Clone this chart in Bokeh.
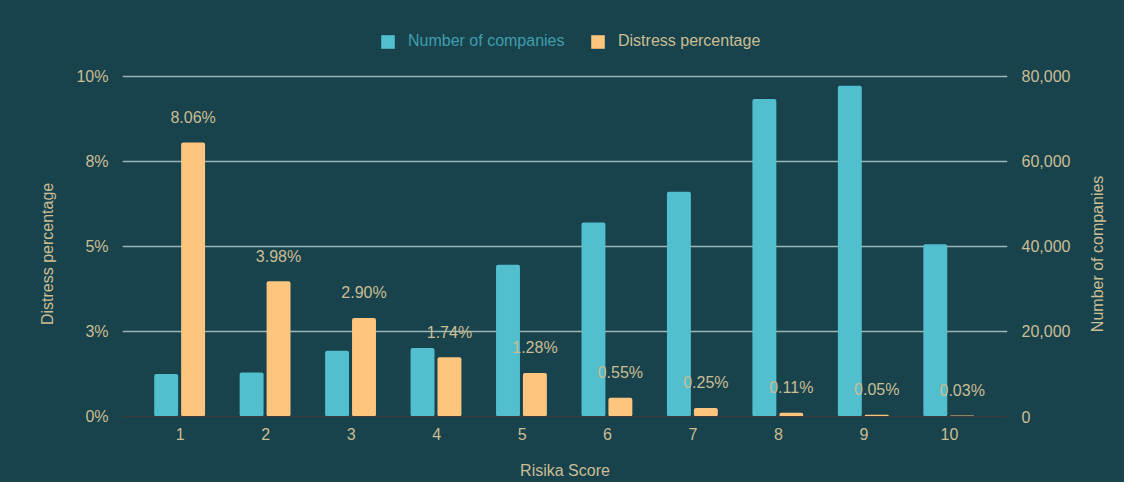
import math
from bokeh.plotting import figure
from bokeh.layouts import row
from bokeh.models import (Range1d, LinearAxis, FixedTicker, Legend, LegendItem,
                          ColumnDataSource)
from bokeh.core.properties import value
from bokeh.embed import file_html
from bokeh.resources import INLINE

# ---- data ----
scores = [1, 2, 3, 4, 5, 6, 7, 8, 9, 10]
score_labels = ["1", "2", "3", "4", "5", "6", "7", "8", "9", "10"]
companies = [10000, 10350, 15450, 16100, 35700, 45650, 52900, 74700, 77800, 40500]
distress_pct = [8.06, 3.98, 2.90, 1.74, 1.28, 0.55, 0.25, 0.11, 0.05, 0.03]
distress_labels = ["8.06%", "3.98%", "2.90%", "1.74%", "1.28%", "0.55%", "0.25%", "0.11%", "0.05%", "0.03%"]
pct_ticks = [0, 2.5, 5, 7.5, 10]
pct_tick_labels = ["0%", "3%", "5%", "8%", "10%"]
comp_ticks = [0, 20000, 40000, 60000, 80000]
comp_tick_labels = ["0", "20,000", "40,000", "60,000", "80,000"]
x_title = "Risika Score"
left_title = "Distress percentage"
right_title = "Number of companies"

FONT = "Liberation Sans"
BG = "#18434c"
TXT = "#cbbd94"
CYAN = "#52bfce"
ORANGE = "#fdc57e"
H = 482

PCT_TOP = 11.88
ratio = comp_ticks[-1] / pct_ticks[-1]

p = figure(width=1004, height=H, output_backend="svg", toolbar_location=None,
           x_range=Range1d(0.324, 10.68), y_range=Range1d(0, PCT_TOP),
           min_border_left=52, min_border_right=67, min_border_top=12,
           min_border_bottom=66)
p.background_fill_color = BG
p.border_fill_color = BG
p.outline_line_color = None
p.styles = {"background-color": BG}
p.extra_y_ranges = {"comp": Range1d(0, PCT_TOP * ratio)}

src = ColumnDataSource(dict(x=scores, comp=companies, pct=distress_pct, lab=distress_labels))
src.data["xc"] = [s - 0.165 for s in scores]
src.data["xd"] = [s + 0.15 for s in scores]

r_comp = p.vbar(x="xc", top="comp", width=0.28, source=src, y_range_name="comp",
                fill_color=CYAN, line_color=None, border_radius=2)
r_pct = p.vbar(x="xd", top="pct", width=0.28, source=src,
               fill_color=ORANGE, line_color=None, border_radius=2)
p.text(x="xd", y="pct", text="lab", source=src, y_offset=-25,
       text_align="center", text_baseline="middle", text_color=TXT,
       text_font=value(FONT), text_font_size="16px")

# grid
p.xgrid.visible = False
p.ygrid.ticker = FixedTicker(ticks=pct_ticks[1:])
p.ygrid.grid_line_color = "#9db5b8"
p.ygrid.grid_line_width = 1.5

# axes
def style(ax):
    ax.major_tick_line_color = None
    ax.minor_tick_line_color = None
    ax.major_label_text_color = TXT
    ax.major_label_text_font = FONT
    ax.major_label_text_font_size = "16px"
    ax.major_label_standoff = 8
    ax.axis_label_text_color = TXT
    ax.axis_label_text_font = FONT
    ax.axis_label_text_font_size = "16px"
    ax.axis_label_text_font_style = "normal"

xa = p.xaxis[0]
style(xa)
xa.ticker = FixedTicker(ticks=scores)
xa.major_label_overrides = dict(zip(scores, score_labels))
xa.axis_line_color = "#3e3b36"
xa.major_label_standoff = 5
xa.axis_label = x_title
xa.axis_label_standoff = 19

ya = p.yaxis[0]
style(ya)
ya.ticker = FixedTicker(ticks=pct_ticks)
ya.major_label_overrides = dict(zip(pct_ticks, pct_tick_labels))
ya.axis_line_color = None

ra = LinearAxis(y_range_name="comp")
style(ra)
ra.ticker = FixedTicker(ticks=comp_ticks)
ra.major_label_overrides = dict(zip(comp_ticks, comp_tick_labels))
ra.axis_line_color = None
p.add_layout(ra, "right")

# legends (two, for different text colours)
def make_legend(label, rend, color, x):
    lg = Legend(items=[LegendItem(label=label, renderers=[rend])],
                location=(x, 366), orientation="horizontal",
                padding=0, margin=0, spacing=0,
                glyph_width=17, glyph_height=17, label_height=17,
                label_standoff=12, border_line_color=None,
                background_fill_alpha=0, label_text_color=color,
                label_text_font=FONT, label_text_font_size="16px")
    p.add_layout(lg, "center")

make_legend("Number of companies", r_comp, "#3f9eac", 257)
make_legend("Distress percentage", r_pct, TXT, 467)

# side strips holding the vertical axis titles (read bottom-to-top)
def side_strip(w, text, cx, cy):
    s = figure(width=w, height=H, output_backend="svg", toolbar_location=None,
               x_range=Range1d(0, w), y_range=Range1d(0, H),
               min_border=0, x_axis_location=None, y_axis_location=None)
    s.background_fill_color = BG
    s.border_fill_color = BG
    s.outline_line_color = None
    s.grid.visible = False
    s.styles = {"background-color": BG}
    s.text(x=[cx], y=[cy], text=[text], angle=math.pi / 2,
           text_align="center", text_baseline="middle", text_color=TXT,
           text_font=value(FONT), text_font_size="16px")
    return s

left = side_strip(70, left_title, 47, 194)
right = side_strip(50, right_title, 23, 194)

layout = row(left, p, right, spacing=0)
layout.styles = {"background-color": BG}

open("out.html", "w").write(file_html(layout, INLINE))
